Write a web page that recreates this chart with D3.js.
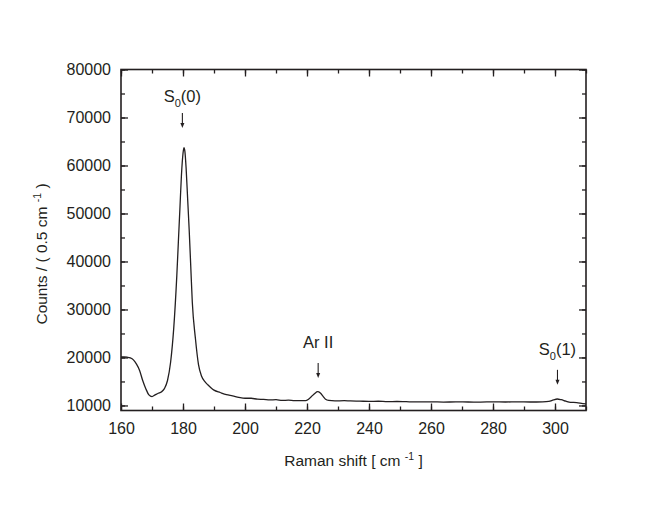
<!DOCTYPE html>
<html>
<head>
<meta charset="utf-8">
<script src="https://cdn.jsdelivr.net/npm/d3@7"></script>
<style>
  body { margin: 0; background: #fff; }
  text { font-family: "Liberation Sans", Arial, sans-serif; fill: #231f20; }
</style>
</head>
<body>
<svg id="chart" width="664" height="506"></svg>
<script>
// Raman shift (cm-1) and counts
const shift = [160, 161, 162, 163, 164, 165, 166, 167, 168, 169, 170, 171, 172, 173, 174, 175, 176, 177, 178, 178.5,
  179, 179.5, 180, 180.3, 180.6, 181, 181.5, 182, 182.5, 183, 184, 185, 186, 187, 188, 189, 190, 192, 194, 196,
  198, 200, 202, 204, 206, 208, 210, 212, 214, 216, 218, 219.5, 220.5, 221.5, 222.5, 223.4, 224.3, 225.2, 226, 227,
  229, 232, 234, 237, 240, 243, 246, 249, 252, 256, 260, 264, 268, 272, 276, 280, 284, 288, 292, 296,
  298, 299.5, 300.7, 302, 303.5, 305, 307, 309, 310];
const counts = [20100, 20100, 20050, 19900, 19500, 18600, 17300, 15200, 13500, 12200, 11850, 12200, 12550, 12800, 13500, 15200, 19000, 26000, 37000, 44000,
  51000, 58000, 62500, 63700, 63000, 59500, 53000, 46500, 39000, 31500, 24000, 18500, 16100, 15000, 14300, 13700, 13200, 12700, 12250, 12000,
  11700, 11500, 11500, 11300, 11250, 11150, 11200, 11050, 11100, 11000, 11000, 11000, 11300, 11900, 12500, 12870, 12600, 11900, 11300, 11050,
  10950, 11000, 10940, 10900, 10850, 10880, 10800, 10830, 10780, 10730, 10760, 10700, 10740, 10720, 10700, 10760, 10720, 10740, 10720, 10760,
  10850, 11150, 11350, 11200, 10900, 10650, 10600, 10400, 10350];

const xTicks = [160, 180, 200, 220, 240, 260, 280, 300];
const yTicks = [10000, 20000, 30000, 40000, 50000, 60000, 70000, 80000];

// peak annotations: label, subscript, rest, x position, arrow tip (counts)
const annoMain = ["S", "Ar II", "S"];
const annoSub = ["0", "", "0"];
const annoRest = ["(0)", "", "(1)"];
const annoX = [179.8, 223.6, 300.8];
const annoTip = [67800, 15700, 14300];

const svg = d3.select("#chart");
const pLeft = 121, pRight = 586, pTop = 69.5, pBottom = 410.5;

const x = d3.scaleLinear().domain([160, 310]).range([pLeft, pRight]);
const y = d3.scaleLinear().domain([8950, 80000]).range([pBottom, pTop]);

const data = shift.map((s, i) => ({s: s, c: counts[i]}));

// axes with inward ticks on all four sides
const xMinor = d3.range(160, 311, 10);
const yMinor = d3.range(10000, 80001, 5000);
const fmt = d3.format("d");

function axisGroup(axis, tx, ty) {
  const g = svg.append("g").attr("transform", `translate(${tx},${ty})`).call(axis);
  g.select(".domain").remove();
  g.selectAll("line").attr("stroke", "#231f20").attr("stroke-width", 1.3);
  return g;
}

// minor ticks
axisGroup(d3.axisBottom(x).tickValues(xMinor).tickSize(-4).tickFormat(""), 0, pBottom);
axisGroup(d3.axisTop(x).tickValues(xMinor).tickSize(-4).tickFormat(""), 0, pTop);
axisGroup(d3.axisLeft(y).tickValues(yMinor).tickSize(-4).tickFormat(""), pLeft, 0);
axisGroup(d3.axisRight(y).tickValues(yMinor).tickSize(-4).tickFormat(""), pRight, 0);

// major ticks with labels
const gx = axisGroup(d3.axisBottom(x).tickValues(xTicks).tickSize(-7).tickPadding(12).tickFormat(fmt), 0, pBottom);
gx.selectAll("text").attr("font-size", 16).attr("font-family", "Liberation Sans, Arial, sans-serif").attr("fill", "#231f20");
axisGroup(d3.axisTop(x).tickValues(xTicks).tickSize(-7).tickFormat(""), 0, pTop);
const gy = axisGroup(d3.axisLeft(y).tickValues(yTicks).tickSize(-7).tickPadding(10).tickFormat(fmt), pLeft, 0);
gy.selectAll("text").attr("font-size", 16).attr("font-family", "Liberation Sans, Arial, sans-serif").attr("fill", "#231f20");
axisGroup(d3.axisRight(y).tickValues(yTicks).tickSize(-7).tickFormat(""), pRight, 0);

// frame
svg.append("rect")
  .attr("x", pLeft).attr("y", pTop)
  .attr("width", pRight - pLeft).attr("height", pBottom - pTop)
  .attr("fill", "none").attr("stroke", "#231f20").attr("stroke-width", 1.6);

// spectrum
const clipId = "plot-clip";
svg.append("defs").append("clipPath").attr("id", clipId)
  .append("rect").attr("x", pLeft).attr("y", pTop).attr("width", pRight - pLeft).attr("height", pBottom - pTop);

svg.append("path")
  .datum(data)
  .attr("clip-path", `url(#${clipId})`)
  .attr("fill", "none")
  .attr("stroke", "#231f20")
  .attr("stroke-width", 1.3)
  .attr("d", d3.line().x(d => x(d.s)).y(d => y(d.c)).curve(d3.curveMonotoneX));

// annotations (label gap above the arrow differs a little per label)
const labelGap = [11, 15, 15];
annoMain.forEach((m, i) => {
  const ax = x(annoX[i]), tip = y(annoTip[i]);
  const len = 15;
  svg.append("line")
    .attr("x1", ax).attr("x2", ax).attr("y1", tip - len).attr("y2", tip - 4)
    .attr("stroke", "#231f20").attr("stroke-width", 1.1);
  svg.append("path")
    .attr("d", `M${ax - 2},${tip - 5}L${ax + 2},${tip - 5}L${ax},${tip}Z`)
    .attr("fill", "#231f20");
  const t = svg.append("text")
    .attr("x", ax).attr("y", tip - len - labelGap[i])
    .attr("text-anchor", "middle")
    .attr("font-size", 16.5);
  t.append("tspan").text(m);
  if (annoSub[i]) {
    t.append("tspan").attr("font-size", 11).attr("dy", 5).text(annoSub[i]);
    t.append("tspan").attr("dy", -5).text(annoRest[i]);
  }
});

// axis titles
const xt = svg.append("text")
  .attr("x", (pLeft + pRight) / 2).attr("y", 466)
  .attr("text-anchor", "middle").attr("font-size", 15.5);
xt.append("tspan").text("Raman shift [ cm ");
xt.append("tspan").attr("font-size", 10.5).attr("dy", -6).text("-1");
xt.append("tspan").attr("dy", 6).text(" ]");

const yt = svg.append("text")
  .attr("transform", `translate(47,${(pTop + pBottom) / 2 + 14}) rotate(-90)`)
  .attr("text-anchor", "middle").attr("font-size", 15.5);
yt.append("tspan").text("Counts / ( 0.5 cm ");
yt.append("tspan").attr("font-size", 10.5).attr("dy", -6).text("-1");
yt.append("tspan").attr("dy", 6).text(" )");
</script>
</body>
</html>
